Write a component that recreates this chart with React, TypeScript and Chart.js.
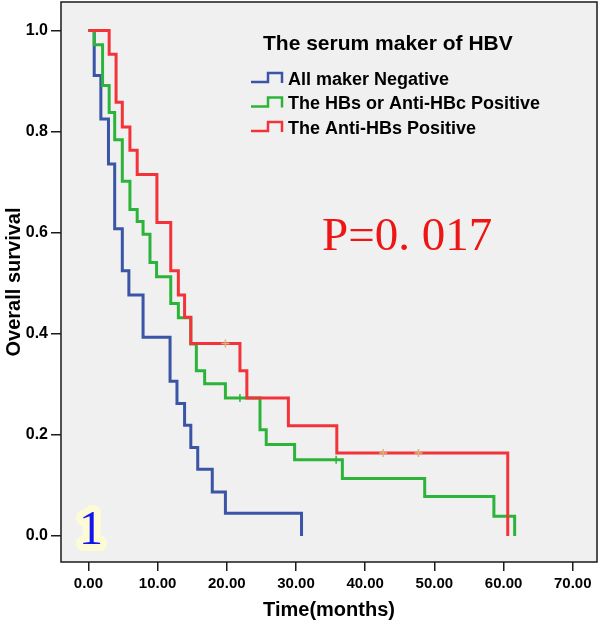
import React, { useEffect, useRef } from 'react';
import { Chart, registerables } from 'chart.js';

Chart.register(...registerables);

// ---- data ----
const seriesNames = ['All maker Negative', 'The HBs or Anti-HBc Positive', 'The Anti-HBs Positive'];
const legendTitle = 'The serum maker of HBV';
const pValueText = 'P=0. 017';
const panelLabel = '1';

const blueTime = [0, 0.84, 1.8, 2.9, 3.8, 4.9, 5.85, 7.9, 11.8, 12.8, 13.9, 14.8, 15.8, 17.9, 19.8, 30.8];
const blueSurv = [1, 0.911, 0.825, 0.736, 0.608, 0.525, 0.477, 0.393, 0.306, 0.262, 0.219, 0.175, 0.132, 0.087, 0.045, 0];

const greenTime = [0, 0.84, 2.05, 3.0, 3.8, 4.9, 6.0, 7.05, 7.9, 8.9, 9.85, 11.9, 13.0, 14.8, 15.6, 16.8, 19.8, 24.8, 25.7, 29.8, 36.7, 48.6, 58.6, 61.6];
const greenSurv = [1, 0.972, 0.891, 0.838, 0.784, 0.702, 0.646, 0.622, 0.597, 0.541, 0.513, 0.46, 0.432, 0.38, 0.327, 0.301, 0.273, 0.21, 0.181, 0.151, 0.114, 0.078, 0.039, 0];

const redTime = [0, 3.0, 4.0, 4.9, 6.0, 7.05, 9.9, 11.9, 13.0, 13.9, 14.8, 21.9, 22.9, 28.9, 35.9, 60.6];
const redSurv = [1, 0.953, 0.858, 0.809, 0.763, 0.715, 0.62, 0.525, 0.477, 0.433, 0.381, 0.327, 0.273, 0.218, 0.164, 0];

const redCensorTime = [19.8, 42.6, 47.7];
const redCensorSurv = [0.381, 0.164, 0.164];
const greenCensorTime = [21.9, 35.8];
const greenCensorSurv = [0.273, 0.151];

const xTicks = [0, 10, 20, 30, 40, 50, 60, 70];
const yTicks = [0, 0.2, 0.4, 0.6, 0.8, 1.0];

const colors = ['#3a54a6', '#2cb43a', '#f2333a'];

const pts = (t: number[], s: number[]) => t.map((x, i) => ({ x, y: s[i] }));

const FONT = '"Liberation Sans", Arial, sans-serif';

export default function App() {
  const ref = useRef<HTMLCanvasElement>(null);

  useEffect(() => {
    const decor = {
      id: 'decor',
      beforeDraw(chart: any) {
        const { ctx, chartArea: a } = chart;
        ctx.save();
        ctx.fillStyle = '#ffffff';
        ctx.fillRect(0, 0, chart.width, chart.height);
        ctx.fillStyle = '#f0f0f0';
        ctx.fillRect(a.left, a.top, a.right - a.left, a.bottom - a.top);
        ctx.restore();
      },
      afterDraw(chart: any) {
        const { ctx, chartArea: a } = chart;
        ctx.save();
        // frame
        ctx.strokeStyle = '#1a1a1a';
        ctx.lineWidth = 1.5;
        ctx.strokeRect(a.left, a.top, a.right - a.left, a.bottom - a.top);

        // legend
        ctx.fillStyle = '#000';
        ctx.textAlign = 'left';
        ctx.textBaseline = 'middle';
        ctx.font = `bold 21px ${FONT}`;
        ctx.fillText(legendTitle, 263, 44);
        ctx.font = `bold 18px ${FONT}`;
        seriesNames.forEach((name, i) => {
          const y = 80 + i * 24.5;
          ctx.strokeStyle = colors[i];
          ctx.lineWidth = 2.5;
          ctx.beginPath();
          ctx.moveTo(251, y + 2);
          ctx.lineTo(268, y + 2);
          ctx.lineTo(268, y - 7);
          ctx.lineTo(282, y - 7);
          ctx.lineTo(282, y + 3);
          ctx.stroke();
          ctx.fillStyle = '#000';
          ctx.fillText(name, 288, y);
        });

        // p value
        ctx.fillStyle = '#ee1515';
        ctx.font = `47px "Liberation Serif", "Times New Roman", serif`;
        ctx.textBaseline = 'alphabetic';
        ctx.fillText(pValueText, 322, 250);

        // panel label with glow
        ctx.font = `48px "Liberation Serif", "Times New Roman", serif`;
        ctx.textAlign = 'center';
        ctx.lineJoin = 'round';
        ctx.strokeStyle = '#fdfbd6';
        ctx.lineWidth = 14;
        ctx.strokeText(panelLabel, 91, 544);
        ctx.fillStyle = '#1414ee';
        ctx.fillText(panelLabel, 91, 544);
        ctx.restore();
      },
    };

    const curve = (i: number, t: number[], s: number[], order: number) => ({
      label: seriesNames[i],
      data: pts(t, s),
      showLine: true,
      stepped: 'before' as const,
      borderColor: colors[i],
      backgroundColor: colors[i],
      borderWidth: 3,
      pointRadius: 0,
      fill: false,
      order,
    });

    const chart = new Chart(ref.current!, {
      type: 'scatter',
      data: {
        datasets: [
          curve(0, blueTime, blueSurv, 3),
          curve(1, greenTime, greenSurv, 2),
          curve(2, redTime, redSurv, 1),
          {
            label: 'red censored',
            data: pts(redCensorTime, redCensorSurv),
            showLine: false,
            pointStyle: 'cross',
            pointRadius: 4,
            borderWidth: 1.5,
            borderColor: '#d8b47a',
            backgroundColor: '#d8b47a',
            order: 0,
          },
          {
            label: 'green censored',
            data: pts(greenCensorTime, greenCensorSurv),
            showLine: false,
            pointStyle: 'cross',
            pointRadius: 4,
            borderWidth: 1.5,
            borderColor: colors[1],
            backgroundColor: colors[1],
            order: 0,
          },
        ] as any,
      },
      options: {
        animation: false,
        responsive: false,
        devicePixelRatio: 1,
        layout: { autoPadding: false, padding: { left: 0, right: 3, top: 2, bottom: 0 } },
        plugins: { legend: { display: false }, tooltip: { enabled: false } },
        events: [],
        scales: {
          x: {
            type: 'linear',
            min: -3.96,
            max: 73.5,
            afterBuildTicks: (s: any) => {
              s.ticks = xTicks.map((v) => ({ value: v }));
            },
            afterFit: (s: any) => {
              s.height = 63;
              s.paddingLeft = 0;
              s.paddingRight = 0;
            },
            border: { display: false },
            grid: { drawOnChartArea: false, drawTicks: true, tickLength: 9, color: '#1a1a1a', lineWidth: 1.5 },
            ticks: {
              color: '#000',
              autoSkip: false,
              maxRotation: 0,
              padding: 4,
              font: { family: FONT, size: 15, weight: 'bold' },
              callback: (v: any) => Number(v).toFixed(2),
            },
            title: {
              display: true,
              text: 'Time(months)',
              color: '#000',
              font: { family: FONT, size: 20, weight: 'bold' },
              padding: { top: 0, bottom: 3 },
            },
          },
          y: {
            type: 'linear',
            min: -0.0514,
            max: 1.0564,
            afterBuildTicks: (s: any) => {
              s.ticks = yTicks.map((v) => ({ value: v }));
            },
            afterFit: (s: any) => {
              s.width = 61;
              s.paddingTop = 0;
              s.paddingBottom = 0;
            },
            border: { display: false },
            grid: { drawOnChartArea: false, drawTicks: true, tickLength: 10, color: '#1a1a1a', lineWidth: 1.5 },
            ticks: {
              color: '#000',
              autoSkip: false,
              padding: 3,
              font: { family: FONT, size: 16, weight: 'bold' },
              callback: (v: any) => Number(v).toFixed(1),
            },
            title: {
              display: true,
              text: 'Overall survival',
              color: '#000',
              font: { family: FONT, size: 20, weight: 'bold' },
              padding: { top: 2, bottom: 0 },
            },
          },
        },
      } as any,
      plugins: [decor],
    });
    return () => chart.destroy();
  }, []);

  return (
    <div style={{ position: 'absolute', left: 0, top: 0, width: 600, height: 625, background: '#fff' }}>
      <canvas ref={ref} width={600} height={625} style={{ display: 'block', width: 600, height: 625 }} />
    </div>
  );
}
